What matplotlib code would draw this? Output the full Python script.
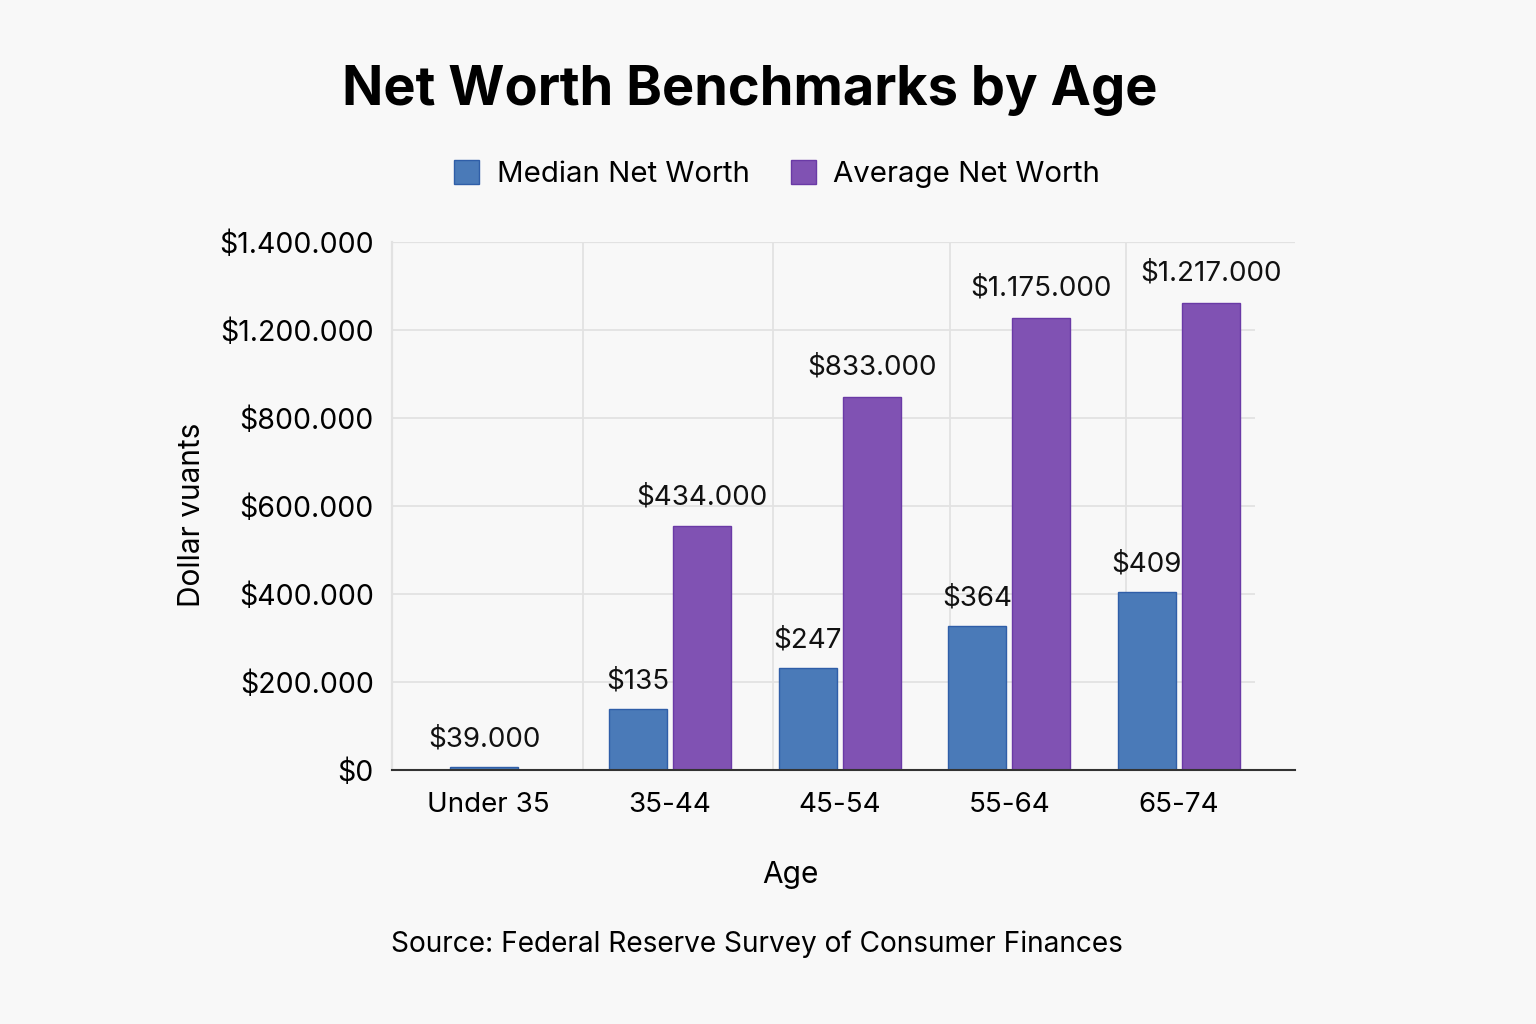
import numpy as np
import matplotlib
matplotlib.use("Agg")
import matplotlib.pyplot as plt

plt.rcParams['font.family'] = ['Inter', 'DejaVu Sans']

ages = ["Under 35", "35-44", "45-54", "55-64", "65-74"]
# bar heights as drawn on the axis
median = [7000, 139000, 232000, 327000, 404000]
average = [0, 554000, 848000, 1028000, 1061000]
# labels as printed over the bars
median_labels = ["$39.000", "$135", "$247", "$364", "$409"]
average_labels = ["", "$434.000", "$833.000", "$1.175.000", "$1.217.000"]
yticks = [0, 200000, 400000, 600000, 800000, 1000000, 1200000]
ytick_labels = ["$0", "$200.000", "$400.000", "$600.000", "$800.000",
                "$1.200.000", "$1.400.000"]

blue = "#4a7ab8"
blue_edge = "#2f5ea8"
purple = "#8052b3"
purple_edge = "#6a3aa6"
grid_c = "#e2e2e2"
bg = "#f8f8f8"

fig = plt.figure(figsize=(15.36, 10.24), dpi=100, facecolor=bg)
ax = fig.add_axes([392/1536, 1 - 770/1024, (1295-392)/1536, (770-242)/1024])
ax.set_facecolor(bg)

x = np.arange(len(ages), dtype=float)
x[0] = -0.07  # lone bar group sits a bit left
w = 0.342
gap = 0.018
for i in range(len(ages)):
    if average[i] > 0:
        xm = x[i] - w/2 - gap
        xa = x[i] + w/2 + gap
        wm = w
    else:
        xm = x[i] - 0.024
        wm = 0.40
    ax.bar(xm, median[i], wm, color=blue, edgecolor=blue_edge, linewidth=1, zorder=3)
    ax.annotate(median_labels[i], (xm, median[i]), xytext=(0, 20), textcoords="offset points",
                ha="center", va="center", fontsize=20, color="#111111")
    if average[i] > 0:
        ax.bar(xa, average[i], w, color=purple, edgecolor=purple_edge, linewidth=1, zorder=3)
        ax.annotate(average_labels[i], (xa, average[i]), xytext=(0, 21), textcoords="offset points",
                    ha="center", va="center", fontsize=20, color="#111111")

ax.set_xlim(-0.6385, 4.684)
ax.set_ylim(0, 1200000)
ax.set_yticks(yticks)
ax.set_yticklabels(ytick_labels, fontsize=20.5)
ax.set_xticks(x)
ax.set_xticklabels(ages, fontsize=20)
ax.tick_params(axis="y", length=0, pad=13)
ax.tick_params(axis="x", length=0, pad=16)

# grid: horizontal lines stop short of the right end, except the top one
ax.hlines(yticks[1:-1], -0.6385, 4.45, color=grid_c, linewidth=1.3, zorder=0)
ax.axhline(yticks[-1], color=grid_c, linewidth=1.6, zorder=0)
for b in [0.49, 1.61, 2.65, 3.69]:
    ax.axvline(b, color=grid_c, linewidth=1.3, zorder=0)
for s in ["top", "right"]:
    ax.spines[s].set_visible(False)
ax.spines["left"].set_color(grid_c)
ax.spines["left"].set_linewidth(1.6)
ax.spines["bottom"].set_color("#333333")
ax.spines["bottom"].set_linewidth(1.5)
ax.spines["bottom"].set_zorder(4)

fig.text(192/1536, 1 - 515/1024, "Dollar vuants", rotation=90, ha="center", va="center",
         fontsize=21.5)
fig.text(790/1536, 1 - 875/1024, "Age", ha="center", va="center", fontsize=21.5)
fig.text(757/1536, 1 - 944/1024, "Source: Federal Reserve Survey of Consumer Finances",
         ha="center", va="center", fontsize=20.2)
fig.text(750/1536, 1 - 91/1024, "Net Worth Benchmarks by Age", ha="center", va="center",
         fontsize=39, fontweight="bold")

# legend
handles = [plt.Rectangle((0, 0), 1, 1, facecolor=blue, edgecolor=blue_edge),
           plt.Rectangle((0, 0), 1, 1, facecolor=purple, edgecolor=purple_edge)]
fig.legend(handles, ["Median Net Worth", "Average Net Worth"], loc="center",
           bbox_to_anchor=(777/1536, 1 - 174/1024), ncol=2, frameon=False, fontsize=21.2,
           handlelength=0.85, handleheight=0.85, handletextpad=0.58, columnspacing=1.4)

fig.savefig("out.png", dpi=100, facecolor=bg)
